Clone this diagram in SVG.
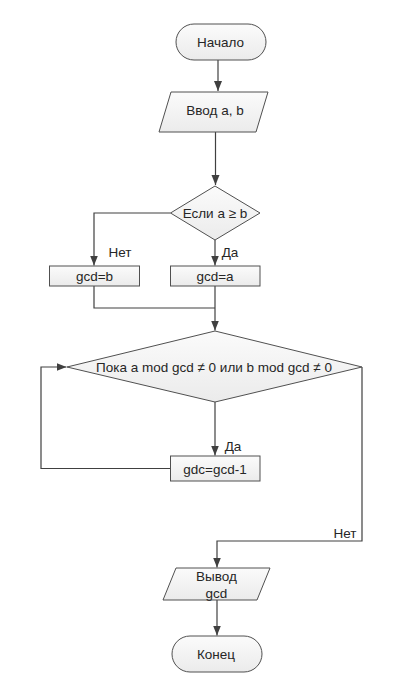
<svg xmlns="http://www.w3.org/2000/svg" width="420" height="684" viewBox="0 0 420 684">
<defs>
<linearGradient id="g" x1="0" y1="0" x2="0" y2="1">
<stop offset="0" stop-color="#fbfbfb"/>
<stop offset="1" stop-color="#ebebeb"/>
</linearGradient>
<marker id="arr" markerUnits="userSpaceOnUse" markerWidth="10" markerHeight="10" viewBox="0 0 10 10" refX="10" refY="5" orient="auto">
<path d="M0,1 L10,5 L0,9 Z" fill="#404040"/>
</marker>
<style>
.s{fill:url(#g);stroke:#505050;stroke-width:1}
.c{fill:none;stroke:#404040;stroke-width:1.2}
.t{font-family:"Liberation Sans",Arial,sans-serif;font-size:13.5px;fill:#262626;text-anchor:middle}
</style>
</defs>
<rect width="420" height="684" fill="#ffffff"/>
<g id="connectors">
<path class="c" d="M218 60 V91" marker-end="url(#arr)"/>
<path class="c" d="M215.5 132 V185" marker-end="url(#arr)"/>
<path class="c" d="M170.5 213 H94 V265.5" marker-end="url(#arr)"/>
<path class="c" d="M215 240 V265.5" marker-end="url(#arr)"/>
<path class="c" d="M94 286 V308 H215"/>
<path class="c" d="M215 286 V330.5" marker-end="url(#arr)"/>
<path class="c" d="M215 402 V455.5" marker-end="url(#arr)"/>
<path class="c" d="M170.5 468.5 H41 V367 H66.5" marker-end="url(#arr)"/>
<path class="c" d="M362 367 V541 H217 V567.5" marker-end="url(#arr)"/>
<path class="c" d="M217 600 V635.5" marker-end="url(#arr)"/>
<text class="t" x="120" y="256.5">Нет</text>
<text class="t" x="230" y="256.5">Да</text>
<text class="t" x="233" y="450.5">Да</text>
<text class="t" x="345" y="537.5">Нет</text>
</g>
<g id="start">
<rect class="s" x="176" y="24" width="90" height="36" rx="18"/>
<text class="t" x="220.5" y="47">Начало</text>
</g>
<g id="input">
<polygon class="s" points="171,92 268,92 256,132 159,132"/>
<text class="t" x="215" y="115">Ввод a, b</text>
</g>
<g id="cond1">
<polygon class="s" points="215,186 260,213 215,240 170.5,213"/>
<text class="t" x="215" y="218">Если a ≥ b</text>
</g>
<g id="gcdb">
<rect class="s" x="49.5" y="266" width="90" height="20"/>
<text class="t" x="94.5" y="281">gcd=b</text>
</g>
<g id="gcda">
<rect class="s" x="170.5" y="266" width="89.5" height="20"/>
<text class="t" x="215" y="281">gcd=a</text>
</g>
<g id="cond2">
<polygon class="s" points="215,331 362,367 215,402 67,367"/>
<text class="t" x="214" y="372">Пока a mod gcd ≠ 0 или b mod gcd ≠ 0</text>
</g>
<g id="dec">
<rect class="s" x="170.5" y="456" width="89.5" height="25"/>
<text class="t" x="215" y="473.5">gdc=gcd-1</text>
</g>
<g id="output">
<polygon class="s" points="176,568 270,568 257,600 163,600"/>
<text class="t" x="216.5" y="581">Вывод</text>
<text class="t" x="216.5" y="597.5">gcd</text>
</g>
<g id="end">
<rect class="s" x="172" y="636" width="90" height="36" rx="18"/>
<text class="t" x="216" y="659">Конец</text>
</g>
</svg>
